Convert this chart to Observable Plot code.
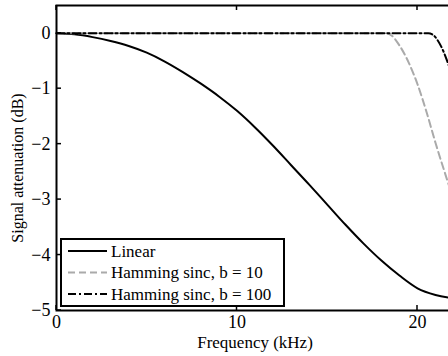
<!DOCTYPE html>
<html><head><meta charset="utf-8">
<script src="https://cdn.jsdelivr.net/npm/d3@7"></script>
<script src="https://cdn.jsdelivr.net/npm/@observablehq/plot@0.6"></script>
<style>
html,body{margin:0;padding:0;background:#fff;overflow:hidden;width:448px;height:356px}
#chart{position:relative;width:448px;height:356px;overflow:hidden}
#chart svg{max-width:none !important;}
#chart svg text{font-family:"Liberation Serif" !important;}
</style></head><body><div id="chart"></div>
<script>
// ---- data ----
const xTicks = [0, 10, 20];
const yTicks = [-5, -4, -3, -2, -1, 0];
const xTitle = "Frequency (kHz)";
const yTitle = "Signal attenuation (dB)";
const seriesNames = ["Linear", "Hamming sinc, b = 10", "Hamming sinc, b = 100"];

const freqLinear = [0, 1, 2, 3, 4, 5, 6, 7, 8, 9, 10, 11, 12, 13, 14, 15, 16, 17, 18, 19, 20, 21, 22];
const attLinear  = [0, -0.02, -0.07, -0.14, -0.23, -0.35, -0.51, -0.70, -0.91, -1.14, -1.40, -1.70, -2.03, -2.38, -2.73, -3.09, -3.45, -3.79, -4.10, -4.37, -4.60, -4.72, -4.78];

const freqB10 = [0, 18.3, 18.6, 19, 19.5, 20, 20.5, 21, 21.5, 22];
const attB10  = [0, 0, -0.05, -0.22, -0.52, -0.92, -1.42, -1.98, -2.50, -3.00];

const freqB100 = [0, 20.6, 20.9, 21.1, 21.4, 21.7, 22];
const attB100  = [0, 0, -0.04, -0.12, -0.30, -0.55, -0.85];

const xDomain = [0, 22.05];
const yDomain = [-5, 0.5];

// ---- build ----
const rows = (fs, as, s) => fs.map((f, i) => ({f, a: as[i], s}));
const linear = rows(freqLinear, attLinear, seriesNames[0]);
const b10 = rows(freqB10, attB10, seriesNames[1]);
const b100 = rows(freqB100, attB100, seriesNames[2]);

const styles = [
  {stroke: "#000", dash: null},
  {stroke: "#aaaaaa", dash: "7,4"},
  {stroke: "#000", dash: "8,3,2,3"}
];

const FONT = "Liberation Serif";
const minus = d => d < 0 ? "\u2212" + Math.abs(d) : String(d);

const plot = Plot.plot({
  width: 464, height: 356,
  marginLeft: 56, marginRight: 10, marginTop: 5, marginBottom: 46,
  style: {fontFamily: FONT, fontSize: "18px", background: "#fff", color: "#000", maxWidth: "none"},
  x: {domain: xDomain},
  y: {domain: yDomain},
  marks: [
    Plot.line(linear, {x: "f", y: "a", stroke: styles[0].stroke, strokeWidth: 2, curve: "monotone-x"}),
    Plot.line(b10, {x: "f", y: "a", stroke: styles[1].stroke, strokeDasharray: styles[1].dash, strokeWidth: 2, curve: "monotone-x"}),
    Plot.line(b100, {x: "f", y: "a", stroke: styles[2].stroke, strokeDasharray: styles[2].dash, strokeWidth: 2, curve: "monotone-x"}),
    Plot.frame({strokeWidth: 2}),
    Plot.axisX({anchor: "bottom", ticks: xTicks, tickSize: 0, tickPadding: 5, label: null, fontSize: 18}),
    Plot.axisY({anchor: "left", ticks: yTicks, tickSize: 0, tickPadding: 6, label: null, fontSize: 18, tickFormat: minus})
  ]
});

const sx = plot.scale("x"), sy = plot.scale("y");
const svg = d3.select(plot);
const X = v => sx.apply(v), Y = v => sy.apply(v);

// inward ticks (positions from Plot's scales)
const tg = svg.append("g").attr("stroke", "#000").attr("stroke-width", 1.5);
xTicks.forEach(v => {
  tg.append("line").attr("x1", X(v)).attr("x2", X(v)).attr("y1", Y(yDomain[0])).attr("y2", Y(yDomain[0]) - 5);
  tg.append("line").attr("x1", X(v)).attr("x2", X(v)).attr("y1", Y(yDomain[1])).attr("y2", Y(yDomain[1]) + 5);
});
yTicks.forEach(v => {
  tg.append("line").attr("x1", X(xDomain[0])).attr("x2", X(xDomain[0]) + 5).attr("y1", Y(v)).attr("y2", Y(v));
});

// axis titles
svg.append("text").attr("x", (X(xDomain[0]) + X(xDomain[1])) / 2).attr("y", 342).attr("text-anchor", "middle").attr("dy", "0.35em")
  .attr("font-family", FONT).attr("font-size", 17).attr("fill", "#000").text(xTitle);
svg.append("text").attr("transform", "translate(17,168) rotate(-90)").attr("text-anchor", "middle").attr("dy", "0.35em")
  .attr("font-family", FONT).attr("font-size", 16).attr("fill", "#000").text(yTitle);

// legend
const lg = svg.append("g");
lg.append("rect").attr("x", 61).attr("y", 239).attr("width", 223).attr("height", 67)
  .attr("fill", "#fff").attr("stroke", "#000").attr("stroke-width", 2);
seriesNames.forEach((name, i) => {
  const y = 251 + i * 21.5;
  lg.append("line").attr("x1", 68).attr("x2", 107).attr("y1", y).attr("y2", y)
    .attr("stroke", styles[i].stroke).attr("stroke-width", 2)
    .attr("stroke-dasharray", styles[i].dash);
  lg.append("text").attr("x", 111).attr("y", y).attr("dy", "0.35em").attr("text-anchor", "start")
    .attr("font-family", FONT).attr("font-size", 17).attr("fill", "#000").text(name);
});

document.getElementById("chart").appendChild(plot);
</script></body></html>
